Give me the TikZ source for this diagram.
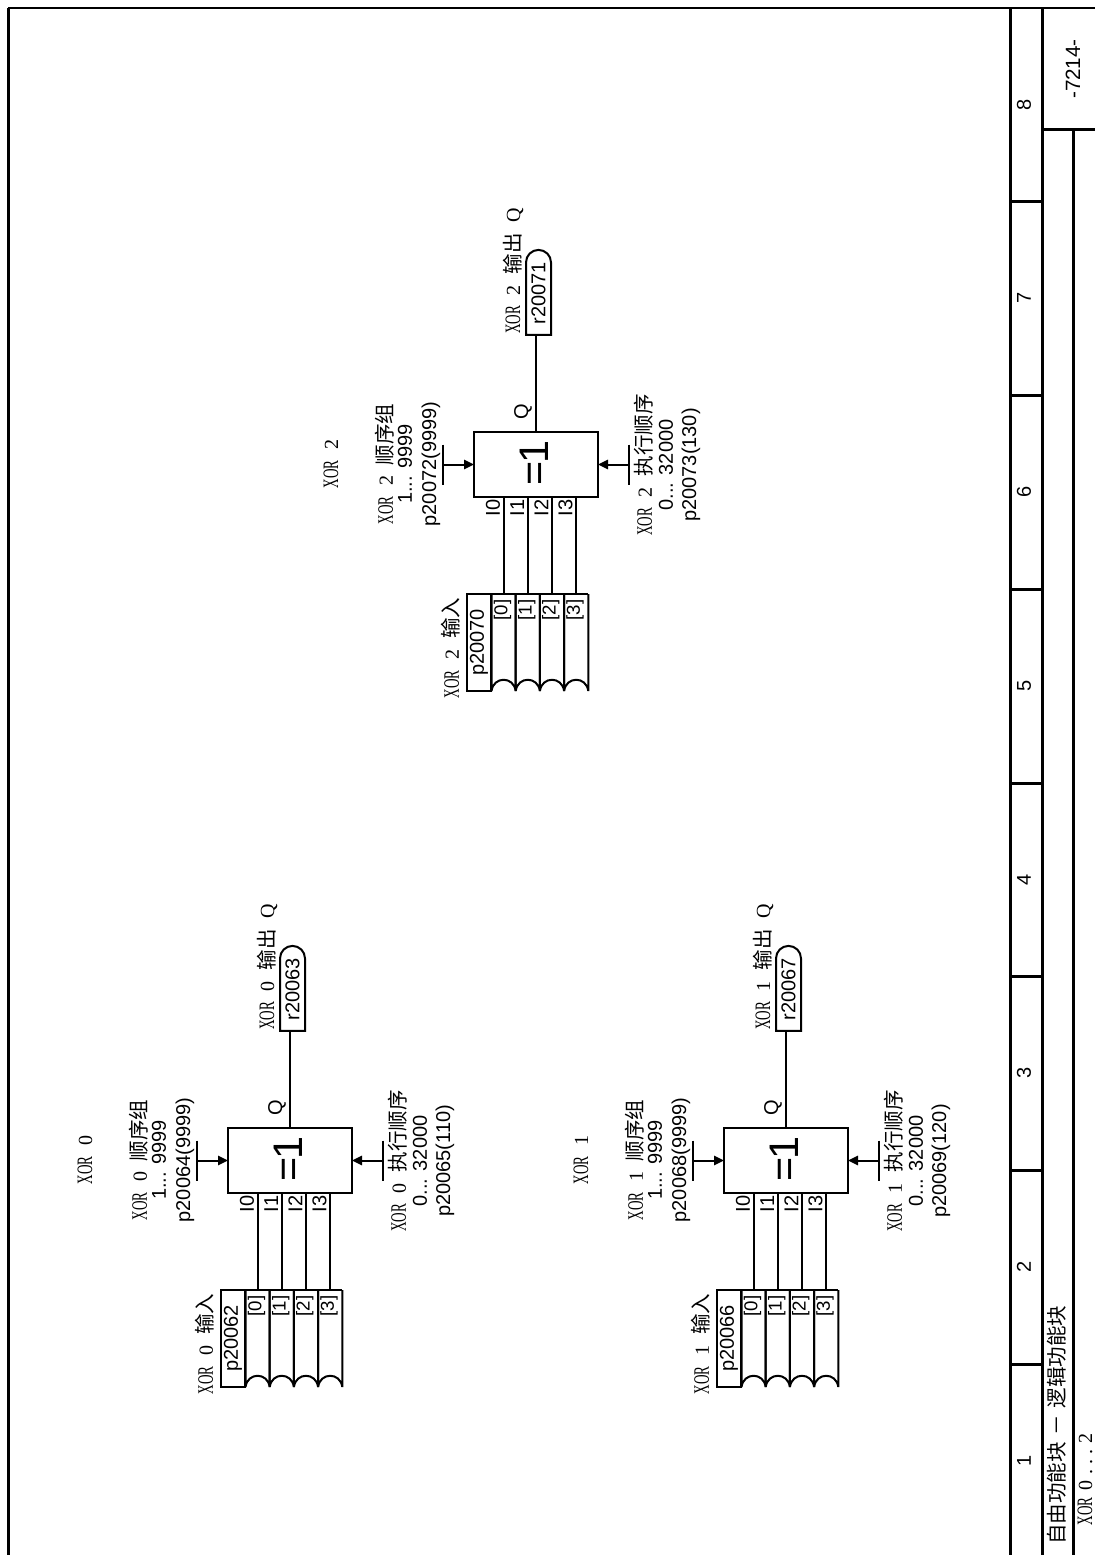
\documentclass[tikz,border=0pt]{standalone}
\usepackage{fontspec}
\setmainfont{Liberation Sans}
\usetikzlibrary{positioning, calc, shapes.misc, arrows.meta}
\newfontfamily\cjkfont{Noto Sans CJK SC}
\newfontfamily\serfont{Liberation Serif}
\newfontfamily\xorfont[FakeStretch=0.6]{Liberation Serif}
% serif caption with a CJK tail, e.g. XOR 0 + words + optional Q
\newcommand{\xorword}{{\fontsize{16.5}{18}\xorfont XOR}}
\newcommand{\xornum}[1]{{\fontsize{15}{18}\serfont #1}}
\newcommand{\cjkword}[1]{{\fontsize{15.4}{18}\cjkfont #1}}
\begin{document}
\begin{tikzpicture}[x=0.75pt, y=-0.75pt,
        frame/.style={line width=2.25pt},
        wire/.style={line width=1.5pt, line join=bevel},
        feed/.style={-{Triangle[length=7.5pt, width=7pt]}, line width=1.5pt},
        rot/.style={rotate=90, font=\fontsize{15}{18}\selectfont, inner sep=0pt},
        gatebox/.style={draw, line width=1.5pt, outer sep=0pt, minimum width=93pt, minimum height=48.75pt},
        parbox/.style={rot, draw, line width=1.5pt, outer sep=0pt, minimum width=72.75pt, minimum height=18pt},
        outbox/.style={rot, draw, line width=1.5pt, outer sep=0pt, rounded rectangle, rounded rectangle west arc=none,
                       minimum width=63.75pt, minimum height=18.75pt}]
    \useasboundingbox (0,0) rectangle (1095,1555);

    % sheet frame
    \draw[line width=1.5pt] (8,8) -- (1095,8);
    \draw[frame] (8,8) -- (8,1555);
    \draw[frame] (1010,8) -- (1010,1555);
    \draw[frame] (1042,8) -- (1042,1555);
    \draw[frame] (1073,130) -- (1073,1555);
    \draw[frame] (1042,130) -- (1095,130);
    \foreach \t in {201.5,395,589,783,976,1170,1364}
        \draw[frame] (1010,\t) -- (1042,\t);
    \foreach \c/\py in {1/1461,2/1267,3/1073,4/880,5/686,6/492,7/298,8/105}
        \node[rot] (col\c) at (1024,\py) {\c};

    % title strip
    \node[rot] (sheetno) at (1073,69) {\fontsize{15.5}{18}\selectfont -7214-};
    \node[rot, anchor=west] (title) at (1057,1545) {\cjkword{自由功能块\hspace{5pt}－\hspace{5pt}逻辑功能块}};
    \node[rot, anchor=east] (range) at (1085,1433) {\xorword\hspace{5pt}\xornum{0}\hspace{5pt}\xornum{.\hspace{3.5pt}.\hspace{3.5pt}.}\hspace{5pt}\xornum{2}};

    % the three blocks, drawn at the place of XOR 0 and shifted
    \foreach \n/\dx/\dy/\inp/\seq/\run/\rdef/\outp in {0/0/0/20062/20064/20065/110/20063,
            1/496/0/20066/20068/20069/120/20067, 2/246/-696/20070/20072/20073/130/20071} {
    \begin{scope}[shift={(\dx,\dy)}]
        % gate and heading
        \node[gatebox] (gate\n) at (290,1160.5) {};
        \node[rot] (sign\n) at (288,1159) {\fontsize{31}{33}\selectfont =\hspace{-2pt}1};
        \node[rot] (head\n) at (85,1160) {\xorword\hspace{8pt}\xornum{\n}};

        % parameter on the left
        \coordinate (seq\n) at (197,1160.5);
        \draw[wire] ([yshift=15pt]seq\n) -- ([yshift=-15pt]seq\n);
        \draw[feed] (seq\n) -- (gate\n.west);
        \node[rot] (seqa\n) at (139,1160) {\xorword\hspace{8pt}\xornum{\n}\hspace{8pt}\cjkword{顺序组}};
        \node[rot] (seqb\n) at (159,1160) {1... 9999};
        \node[rot] (seqc\n) at (185,1160) {p\seq(9999)};

        % parameter on the right
        \coordinate (run\n) at (383,1160.5);
        \draw[wire] ([yshift=15pt]run\n) -- ([yshift=-15pt]run\n);
        \draw[feed] (run\n) -- (gate\n.east);
        \node[rot] (runa\n) at (398,1161) {\xorword\hspace{8pt}\xornum{\n}\hspace{8pt}\cjkword{执行顺序}};
        \node[rot] (runb\n) at (420,1161) {0... 32000};
        \node[rot] (runc\n) at (445,1161) {p\run(\rdef)};

        % output
        \node[outbox] (out\n) at (292.5,989.5) {r\outp\hspace{8pt}};
        \draw[wire] (gate\n.north) -- (gate\n.north |- out\n.west);
        \node[rot] (q\n) at (277,1108) {Q};
        \node[rot] (outl\n) at (267,967) {\xorword\hspace{8pt}\xornum{\n}\hspace{8pt}\cjkword{输出}\hspace{8pt}\xornum{Q}};

        % input array
        \node[parbox] (par\n) at (233,1338.5) {p\inp\hspace{10pt}};
        \node[rot] (inl\n) at (205,1344) {\xorword\hspace{8pt}\xornum{\n}\hspace{8pt}\cjkword{输入}};
        \foreach \k in {0,1,2,3} {
            \pgfmathsetmacro{\cx}{245.5+24.2*\k}
            \draw[wire] (\cx,1290) -- (\cx+24.2,1290);
            \draw[wire] (\cx,1290) -- (\cx,1387)
                .. controls (\cx+2,1372) and (\cx+22.2,1372) .. (\cx+24.2,1387) -- (\cx+24.2,1290);
            \node[rot, font=\fontsize{14}{15}\selectfont] (idx\n\k) at (\cx+11,1306) {[\k]};
            \coordinate (pin\n\k) at (\cx+12,1290);
            \draw[wire] (gate\n.south -| pin\n\k) -- (pin\n\k);
            \node[rot] (in\n\k) at (\cx+1.5,1204) {I\k};
        }
    \end{scope}
    }
\end{tikzpicture}
\end{document}
